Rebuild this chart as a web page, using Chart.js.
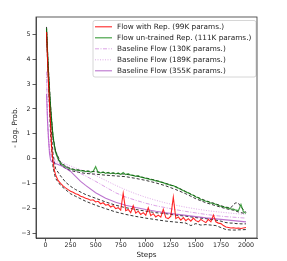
<!DOCTYPE html>
<html>
<head>
<meta charset="utf-8">
<style>
  html, body { margin: 0; padding: 0; background: #fff; }
  #wrap { width: 287px; height: 261px; }
</style>
<script src="https://cdn.jsdelivr.net/npm/chart.js@4/dist/chart.umd.min.js"></script>
</head>
<body>
<div id="wrap"><canvas id="lossChart" width="287" height="261"></canvas></div>
<script>
// steps (x) for the noisy runs
const fineSteps = [10, 20, 30, 40, 50, 60, 70, 80, 90, 100,
  125, 150, 175, 200, 225, 250, 275, 300, 325, 350, 375, 400, 425, 450, 475, 500,
  525, 550, 575, 600, 625, 650, 675, 700, 725, 750, 775, 800, 825, 850, 875, 900,
  925, 950, 975, 1000, 1025, 1050, 1075, 1100, 1125, 1150, 1175, 1200, 1225, 1250,
  1275, 1300, 1325, 1350, 1375, 1400, 1425, 1450, 1475, 1500, 1525, 1550, 1575, 1600,
  1625, 1650, 1675, 1700, 1725, 1750, 1775, 1800, 1825, 1850, 1875, 1900, 1925, 1950,
  1975, 2000];

const flowRep = [5.1, 4.0, 3.0, 2.2, 1.4, 0.5, 0.05, -0.25, -0.5, -0.65,
  -0.88, -1.0, -1.1, -1.18, -1.25, -1.32, -1.36, -1.42, -1.45, -1.52, -1.55, -1.6, -1.63, -1.68, -1.66, -1.75,
  -1.72, -1.82, -1.78, -1.88, -1.85, -1.95, -1.9, -2.02, -1.98, -2.08, -1.4, -2.1, -2.05, -2.18, -1.9, -2.2,
  -2.12, -2.25, -2.18, -2.28, -1.98, -2.3, -2.22, -2.35, -2.28, -2.36, -2.05, -2.38, -2.42, -2.32,
  -1.56, -2.42, -2.35, -2.48, -2.38, -2.5, -2.42, -2.52, -2.4, -2.5, -2.55, -2.45, -2.52, -2.58,
  -2.45, -2.55, -2.28, -2.55, -2.6, -2.62, -2.7, -2.76, -2.78, -2.8, -2.79, -2.81, -2.8, -2.82,
  -2.8, -2.78];

const flowUntrained = [5.25, 4.3, 3.4, 2.7, 2.1, 1.55, 1.1, 0.75, 0.45, 0.25,
  -0.02, -0.18, -0.28, -0.33, -0.38, -0.42, -0.44, -0.47, -0.46, -0.5, -0.49, -0.53, -0.51, -0.55, -0.52, -0.33,
  -0.56, -0.58, -0.54, -0.6, -0.56, -0.61, -0.57, -0.62, -0.58, -0.64, -0.56, -0.65, -0.61, -0.67, -0.68, -0.72,
  -0.69, -0.75, -0.77, -0.8, -0.82, -0.85, -0.86, -0.9, -0.91, -0.95, -0.97, -1.02, -1.04, -1.08,
  -1.09, -1.15, -1.19, -1.25, -1.29, -1.35, -1.38, -1.45, -1.48, -1.55, -1.58, -1.65, -1.68, -1.72,
  -1.74, -1.8, -1.8, -1.85, -1.88, -1.92, -1.94, -1.98, -2.0, -2.03, -2.04, -2.08, -2.1, -1.85,
  -2.15, -2.2];

// baselines are smooth, fewer samples
const baseSteps = [10, 20, 30, 40, 50, 60, 80, 100, 150, 200, 250, 300, 350, 400, 500,
  600, 700, 800, 900, 1000, 1100, 1200, 1300, 1400, 1500, 1600, 1700, 1800, 1900, 2000];
const base130 = [3.5, 1.5, 0.7, 0.3, 0.1, 0.0, -0.08, -0.12, -0.2, -0.3, -0.4, -0.5, -0.6, -0.7, -0.92,
  -1.15, -1.38, -1.55, -1.68, -1.8, -1.9, -1.98, -2.06, -2.13, -2.19, -2.25, -2.3, -2.34, -2.37, -2.4];
const base189 = [3.3, 1.8, 0.9, 0.4, 0.2, 0.08, 0.0, -0.06, -0.14, -0.22, -0.3, -0.38, -0.45, -0.52, -0.68,
  -0.88, -1.08, -1.26, -1.42, -1.56, -1.68, -1.79, -1.88, -1.96, -2.03, -2.09, -2.14, -2.18, -2.22, -2.25];
const base355 = [2.6, 1.5, 0.8, 0.2, -0.05, -0.12, -0.16, -0.2, -0.28, -0.38, -0.52, -0.72, -0.92, -1.08, -1.38,
  -1.6, -1.76, -1.88, -1.97, -2.05, -2.12, -2.18, -2.24, -2.29, -2.34, -2.39, -2.43, -2.47, -2.51, -2.55];

// black dashed envelopes around the two representation runs
const bandSteps = [10, 25, 50, 75, 100, 150, 200, 250, 300, 400, 500, 600, 700, 800, 900, 1000,
  1100, 1200, 1300, 1400, 1450, 1500, 1550, 1600, 1700, 1750, 1800, 1850, 1875, 1900, 1925, 1950, 2000];
const repHi = [5.1, 3.6, 1.5, 0.2, -0.4, -0.7, -0.95, -1.12, -1.25, -1.45, -1.6, -1.75, -1.88, -1.98, -2.05, -2.12,
  -2.18, -2.22, -2.28, -2.32, -2.35, -2.38, -2.4, -2.42, -2.48, -2.52, -2.58, -2.6, -2.6, -2.62, -2.62, -2.63, -2.63];
const repLo = [5.0, 3.4, 1.0, -0.35, -0.8, -1.08, -1.25, -1.42, -1.52, -1.72, -1.88, -2.02, -2.15, -2.25, -2.33, -2.4,
  -2.46, -2.52, -2.56, -2.6, -2.7, -2.62, -2.68, -2.66, -2.7, -2.78, -2.86, -2.88, -2.88, -2.88, -2.87, -2.87, -2.86];
const untrHi = [5.3, 3.9, 2.15, 0.9, 0.3, -0.15, -0.3, -0.4, -0.45, -0.5, -0.53, -0.57, -0.6, -0.63, -0.7, -0.78,
  -0.88, -1.0, -1.13, -1.33, -1.43, -1.53, -1.62, -1.7, -1.83, -1.9, -1.96, -1.98, -1.85, -1.78, -1.8, -1.95, -2.17];
const untrLo = [5.2, 3.8, 2.0, 0.8, 0.3, -0.25, -0.4, -0.48, -0.53, -0.6, -0.63, -0.67, -0.7, -0.73, -0.8, -0.88,
  -0.98, -1.1, -1.25, -1.42, -1.52, -1.62, -1.7, -1.78, -1.9, -1.96, -2.02, -2.06, -2.08, -2.12, -2.15, -2.18, -2.22];

const xTicks = [0, 250, 500, 750, 1000, 1250, 1500, 1750, 2000];
const yTicks = [-3, -2, -1, 0, 1, 2, 3, 4, 5];

const FONT = 'DejaVu Sans';
const pts = (xs, ys) => xs.map((x, i) => ({x: x, y: ys[i]}));

function line(label, xs, ys, color, dash, width, inLegend) {
  return {
    label: label, data: pts(xs, ys),
    borderColor: color, backgroundColor: color,
    borderWidth: width, borderDash: dash,
    pointRadius: 0, tension: 0, fill: false,
    inLegend: inLegend
  };
}

// matplotlib style boxed legend, upper right inside the axes
const boxLegend = {
  id: 'boxLegend',
  afterDraw(chart) {
    const ctx = chart.ctx;
    const items = chart.data.datasets.filter(d => d.inLegend);
    const x0 = 93, y0 = 20.5, w = 163, rowH = 11;
    const h = items.length * rowH + 1.5;
    ctx.save();
    ctx.fillStyle = 'rgba(255,255,255,0.8)';
    ctx.strokeStyle = '#cccccc';
    ctx.lineWidth = 0.8;
    ctx.beginPath();
    ctx.roundRect(x0, y0, w, h, 2);
    ctx.fill();
    ctx.stroke();
    ctx.font = '7.3px "' + FONT + '"';
    ctx.textBaseline = 'middle';
    items.forEach((d, i) => {
      const cy = y0 + 6.3 + i * rowH;
      ctx.strokeStyle = d.borderColor;
      ctx.lineWidth = d.borderWidth;
      ctx.setLineDash(d.borderDash || []);
      ctx.beginPath();
      ctx.moveTo(95, cy);
      ctx.lineTo(112, cy);
      ctx.stroke();
      ctx.setLineDash([]);
      ctx.fillStyle = '#222';
      ctx.fillText(d.label, 117, cy);
    });
    ctx.restore();
  }
};

// top and right spines
const frame = {
  id: 'frame',
  afterDraw(chart) {
    const {left, top, right, bottom} = chart.chartArea;
    const ctx = chart.ctx;
    ctx.save();
    ctx.strokeStyle = '#333';
    ctx.lineWidth = 0.8;
    ctx.strokeRect(left, top, right - left, bottom - top);
    ctx.restore();
  }
};

const minus = v => String(v).replace('-', '\u2212');

new Chart(document.getElementById('lossChart'), {
  type: 'line',
  data: {
    datasets: [
      line('Flow with Rep. (99K params.)', fineSteps, flowRep, 'rgba(255,0,0,0.85)', [], 1.1, true),
      line('Flow un-trained Rep. (111K params.)', fineSteps, flowUntrained, 'rgba(0,128,0,0.72)', [], 1.2, true),
      line('Baseline Flow (130K params.)', baseSteps, base130, 'rgba(191,85,210,0.55)', [4, 1.5, 1, 1.5], 1, true),
      line('Baseline Flow (189K params.)', baseSteps, base189, 'rgba(191,85,210,0.5)', [1, 1.5], 1, true),
      line('Baseline Flow (355K params.)', baseSteps, base355, 'rgba(150,40,180,0.65)', [], 1.1, true),
      line('rep hi', bandSteps, repHi, '#000', [3, 2], 0.8, false),
      line('rep lo', bandSteps, repLo, '#000', [3, 2], 0.8, false),
      line('untr hi', bandSteps, untrHi, '#000', [3, 2], 0.8, false),
      line('untr lo', bandSteps, untrLo, '#000', [3, 2], 0.8, false)
    ]
  },
  options: {
    responsive: false,
    animation: false,
    layout: { padding: { top: 17, right: 30, left: 0, bottom: 0 } },
    plugins: { legend: { display: false }, tooltip: { enabled: false } },
    scales: {
      x: {
        type: 'linear', min: -95, max: 2110,
        afterBuildTicks: s => { s.ticks = xTicks.map(v => ({value: v})); },
        afterFit: s => { s.height = 23; },
        grid: { drawOnChartArea: false, drawTicks: true, tickLength: 3.5, color: '#333', tickWidth: 0.8 },
        border: { display: true, color: '#333', width: 0.8 },
        ticks: { padding: 0, maxRotation: 0, autoSkip: false, color: '#222',
                 font: { family: FONT, size: 6.3 }, callback: v => minus(v) },
        title: { display: true, text: 'Steps', color: '#222',
                 font: { family: FONT, size: 7.2 }, padding: { top: 0, bottom: 1.5 } }
      },
      y: {
        type: 'linear', min: -3.2, max: 5.7,
        afterBuildTicks: s => { s.ticks = yTicks.map(v => ({value: v})); },
        afterFit: s => { s.width = 36; },
        grid: { drawOnChartArea: false, drawTicks: true, tickLength: 3.5, color: '#333', tickWidth: 0.8 },
        border: { display: true, color: '#333', width: 0.8 },
        ticks: { padding: 2, autoSkip: false, color: '#222',
                 font: { family: FONT, size: 6.3 }, callback: v => minus(v) },
        title: { display: true, text: '- Log. Prob.', color: '#222',
                 font: { family: FONT, size: 7.2 }, padding: { top: 11, bottom: 0 } }
      }
    }
  },
  plugins: [boxLegend, frame]
});
</script>
</body>
</html>
